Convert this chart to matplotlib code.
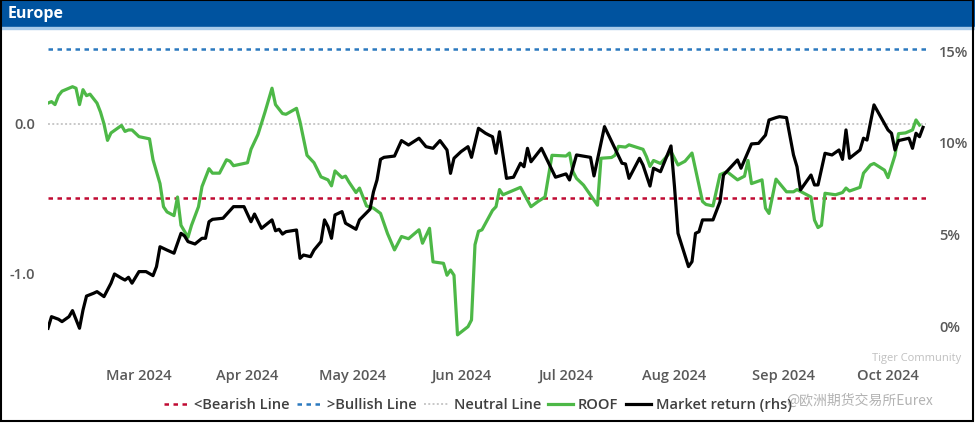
import matplotlib
matplotlib.use('Agg')
import matplotlib.pyplot as plt
import matplotlib.dates as mdates
from matplotlib.patches import Rectangle
from matplotlib.ticker import FuncFormatter
import pandas as pd

# ROOF indicator (lhs)
roof_dates = [
    "02-04", "02-05", "02-06", "02-07", "02-08", "02-11", "02-12", "02-13", "02-14", "02-15",
    "02-16", "02-17", "02-18", "02-19", "02-20", "02-21", "02-22", "02-25", "02-26", "02-27",
    "02-28", "03-01", "03-04", "03-05", "03-07", "03-08", "03-09", "03-11", "03-12", "03-13",
    "03-14", "03-15", "03-16", "03-18", "03-19", "03-21", "03-22", "03-24", "03-26", "03-27",
    "03-28", "04-01", "04-02", "04-04", "04-06", "04-08", "04-09", "04-11", "04-12", "04-15",
    "04-16", "04-18", "04-20", "04-22", "04-24", "04-25", "04-26", "04-28", "04-29", "04-30",
    "05-02", "05-03", "05-05", "05-07", "05-09", "05-11", "05-13", "05-15", "05-17", "05-20",
    "05-21", "05-23", "05-24", "05-27", "05-28", "05-29", "05-30", "05-31", "06-03", "06-04",
    "06-05", "06-06", "06-07", "06-10", "06-11", "06-12", "06-13", "06-18", "06-21", "06-23",
    "06-25", "06-27", "07-01", "07-02", "07-03", "07-04", "07-06", "07-10", "07-11", "07-14",
    "07-15", "07-16", "07-18", "07-19", "07-23", "07-24", "07-25", "07-26", "07-28", "07-31",
    "08-02", "08-04", "08-06", "08-09", "08-10", "08-12", "08-14", "08-16", "08-19", "08-21",
    "08-22", "08-23", "08-26", "08-27", "08-28", "08-30", "09-02", "09-04", "09-05", "09-09",
    "09-10", "09-11", "09-12", "09-13", "09-16", "09-18", "09-19", "09-20", "09-23", "09-24",
    "09-26", "09-27", "09-30", "10-01", "10-03", "10-04", "10-06", "10-08", "10-09", "10-10",
]
roof_values = [
    0.14, 0.15, 0.13, 0.19, 0.22, 0.25, 0.24, 0.13, 0.23, 0.19,
    0.20, 0.17, 0.14, 0.08, 0.00, -0.11, -0.06, -0.01, -0.05, -0.04,
    -0.04, -0.085, -0.10, -0.24, -0.40, -0.555, -0.59, -0.615, -0.49, -0.68,
    -0.72, -0.76, -0.68, -0.555, -0.42, -0.30, -0.33, -0.33, -0.24, -0.25,
    -0.28, -0.26, -0.17, -0.07, 0.08, 0.24, 0.13, 0.07, 0.065, 0.105,
    0.015, -0.21, -0.26, -0.355, -0.375, -0.415, -0.315, -0.36, -0.35, -0.39,
    -0.46, -0.43, -0.55, -0.565, -0.60, -0.735, -0.845, -0.755, -0.77, -0.71,
    -0.80, -0.70, -0.925, -0.935, -1.015, -0.98, -1.015, -1.415, -1.36, -1.315,
    -0.81, -0.72, -0.71, -0.58, -0.555, -0.44, -0.475, -0.425, -0.555, -0.52,
    -0.49, -0.21, -0.215, -0.195, -0.32, -0.365, -0.41, -0.545, -0.23, -0.225,
    -0.21, -0.15, -0.155, -0.14, -0.17, -0.22, -0.285, -0.245, -0.265, -0.185,
    -0.275, -0.25, -0.195, -0.52, -0.54, -0.55, -0.34, -0.32, -0.375, -0.35,
    -0.245, -0.40, -0.375, -0.565, -0.60, -0.37, -0.455, -0.455, -0.44, -0.49,
    -0.645, -0.695, -0.68, -0.465, -0.475, -0.46, -0.43, -0.45, -0.425, -0.33,
    -0.275, -0.265, -0.31, -0.36, -0.21, -0.065, -0.06, -0.04, 0.027, -0.007,
]

# Market return in % (rhs)
mkt_dates = [
    "02-04", "02-05", "02-07", "02-08", "02-10", "02-11", "02-13", "02-14", "02-15", "02-17",
    "02-18", "02-20", "02-22", "02-23", "02-25", "02-26", "02-27", "02-28", "03-01", "03-03",
    "03-05", "03-06", "03-07", "03-09", "03-11", "03-13", "03-14", "03-15", "03-17", "03-19",
    "03-20", "03-21", "03-22", "03-25", "03-28", "03-31", "04-02", "04-03", "04-05", "04-08",
    "04-09", "04-10", "04-11", "04-12", "04-15", "04-16", "04-17", "04-19", "04-20", "04-22",
    "04-23", "04-24", "04-25", "04-26", "04-27", "04-28", "04-29", "05-02", "05-03", "05-06",
    "05-07", "05-08", "05-09", "05-10", "05-13", "05-15", "05-17", "05-20", "05-22", "05-24",
    "05-26", "05-28", "05-29", "05-30", "06-01", "06-03", "06-04", "06-06", "06-08", "06-09",
    "06-10", "06-11", "06-12", "06-14", "06-16", "06-18", "06-19", "06-20", "06-21", "06-24",
    "06-28", "07-01", "07-02", "07-04", "07-08", "07-09", "07-12", "07-17", "07-18", "07-19",
    "07-22", "07-23", "07-25", "07-26", "07-28", "07-31", "08-01", "08-02", "08-05", "08-06",
    "08-07", "08-08", "08-09", "08-12", "08-14", "08-15", "08-19", "08-20", "08-23", "08-25",
    "08-27", "08-28", "08-30", "08-31", "09-02", "09-04", "09-05", "09-06", "09-09", "09-10",
    "09-11", "09-13", "09-15", "09-17", "09-18", "09-19", "09-20", "09-23", "09-24", "09-25",
    "09-27", "10-01", "10-02", "10-03", "10-04", "10-07", "10-08", "10-09", "10-10", "10-11",
]
mkt_values = [
    -0.07, 0.56, 0.42, 0.29, 0.56, 0.89, -0.07, 0.92, 1.68, 1.83,
    1.92, 1.65, 2.38, 2.88, 2.65, 2.55, 2.70, 2.38, 3.01, 3.01,
    2.79, 3.28, 4.36, 4.18, 4.01, 5.09, 4.95, 4.64, 4.51, 4.82,
    4.82, 5.72, 5.85, 5.91, 6.54, 6.54, 5.72, 6.14, 5.36, 5.82,
    5.23, 5.31, 5.05, 5.18, 5.27, 3.73, 3.91, 3.82, 4.18, 4.64,
    5.82, 5.45, 4.82, 6.09, 6.18, 6.27, 5.64, 5.31, 5.82, 6.40,
    7.35, 7.99, 9.11, 9.22, 9.29, 10.13, 9.89, 10.26, 9.80, 9.71,
    10.13, 9.62, 8.35, 9.17, 9.53, 9.80, 9.22, 10.80, 10.53, 10.43,
    10.34, 9.44, 10.61, 8.08, 8.14, 8.90, 8.71, 9.71, 8.98, 9.71,
    8.14, 8.32, 7.99, 9.35, 9.22, 8.21, 10.89, 8.90, 8.86, 8.08,
    9.17, 8.80, 7.66, 8.63, 8.44, 9.84, 7.62, 5.09, 3.28, 3.55,
    5.09, 5.18, 5.82, 5.82, 6.81, 8.26, 9.08, 8.63, 9.95, 9.98,
    10.43, 11.25, 11.38, 11.43, 11.38, 9.35, 8.71, 7.45, 8.26, 7.72,
    7.72, 9.44, 9.35, 9.62, 9.11, 10.71, 9.17, 9.62, 10.26, 10.16,
    12.07, 10.71, 10.53, 9.62, 10.13, 10.26, 9.71, 10.53, 10.34, 10.85,
]

bearish_level = -0.5
bullish_level = 0.5
neutral_level = 0.0
month_ticks = ["2024-03-01", "2024-04-01", "2024-05-01", "2024-06-01",
               "2024-07-01", "2024-08-01", "2024-09-01", "2024-10-01"]
left_ticks = [-1.0, 0.0]
right_ticks = [0, 5, 10, 15]

GREEN = '#4DB847'
GREY_TXT = '#595959'
FONT = 'Open Sans'

roof_x = pd.to_datetime(["2024-" + d for d in roof_dates])
mkt_x = pd.to_datetime(["2024-" + d for d in mkt_dates])

fig = plt.figure(figsize=(9.75, 4.23), dpi=100)
ax = fig.add_axes([48 / 975, 1 - 345 / 423, (926.5 - 48) / 975, 310 / 423])
ax2 = ax.twinx()

h_bear = ax.axhline(bearish_level, color='#C00A32', lw=1.8, dashes=(1.8, 1.8), label='<Bearish Line')
h_bull = ax.axhline(bullish_level, color='#2B79BF', lw=1.8, dashes=(1.8, 1.8), label='>Bullish Line')
h_neut = ax.axhline(neutral_level, color='#C8C8C8', lw=1.4, dashes=(1, 1.2), label='Neutral Line')
h_roof, = ax.plot(roof_x, roof_values, color=GREEN, lw=2.3, label='ROOF')
h_mkt, = ax2.plot(mkt_x, mkt_values, color='black', lw=2.3, label='Market return (rhs)')

ax.set_xlim(pd.Timestamp("2024-02-04"), pd.Timestamp("2024-10-12"))
ax.set_ylim(-1.483, 0.597)
ax2.set_ylim(-0.98, 15.87)

ax.set_xticks(pd.to_datetime(month_ticks))
ax.xaxis.set_major_formatter(mdates.DateFormatter('%b %Y'))
ax.set_yticks(left_ticks)
ax.yaxis.set_major_formatter(FuncFormatter(lambda v, p: f"{v:.1f}"))
ax2.set_yticks(right_ticks)
ax2.yaxis.set_major_formatter(FuncFormatter(lambda v, p: f"{v:.0f}%"))

for a in (ax, ax2):
    for s in a.spines.values():
        s.set_visible(False)
ax.tick_params(axis='x', length=0, pad=17, labelcolor=GREY_TXT)
ax.tick_params(axis='y', length=0, pad=9, labelcolor=GREY_TXT)
ax2.tick_params(axis='y', length=0, pad=9, labelcolor=GREY_TXT)
for lab in ax.get_xticklabels() + ax.get_yticklabels() + ax2.get_yticklabels():
    lab.set_fontfamily(FONT)
    lab.set_fontweight('semibold')
    lab.set_fontsize(10.5)

leg = fig.legend(handles=[h_bear, h_bull, h_neut, h_roof, h_mkt], loc='center',
                 bbox_to_anchor=(0.49, 0.042), ncol=5, frameon=False,
                 handlelength=1.7, handletextpad=0.35, columnspacing=0.5,
                 prop={'family': FONT, 'weight': 'semibold', 'size': 10.5})
for t in leg.get_texts():
    t.set_color('#404040')

# header bar and frame
fig.patches.append(Rectangle((0, 1 - 27 / 423), 1, 27 / 423, transform=fig.transFigure,
                             color='#00539F', zorder=0))
fig.patches.append(Rectangle((0, 1 - 29 / 423), 1, 2 / 423, transform=fig.transFigure,
                             color='#A9CBEA', zorder=0))
fig.patches.append(Rectangle((0.001, 0.004), 0.997, 0.995, transform=fig.transFigure,
                             fill=False, edgecolor='black', lw=1.5, zorder=5))
fig.text(8 / 975, 1 - 14 / 423, 'Europe', color='white', fontsize=11.5, fontweight='bold',
         family=FONT, va='center', ha='left')

# watermark
fig.text(872 / 975, 1 - 358 / 423, 'Tiger Community', color='#B0B0B0', alpha=0.8,
         fontsize=8, family=FONT, va='center', ha='left')
fig.text(786 / 975, 1 - 401 / 423, '@欧洲期货交易所Eurex', color='#A0A0A0', alpha=0.8,
         fontsize=10, family=['Noto Sans CJK SC', 'DejaVu Sans'], va='center', ha='left')

fig.savefig('out.png', dpi=100)
